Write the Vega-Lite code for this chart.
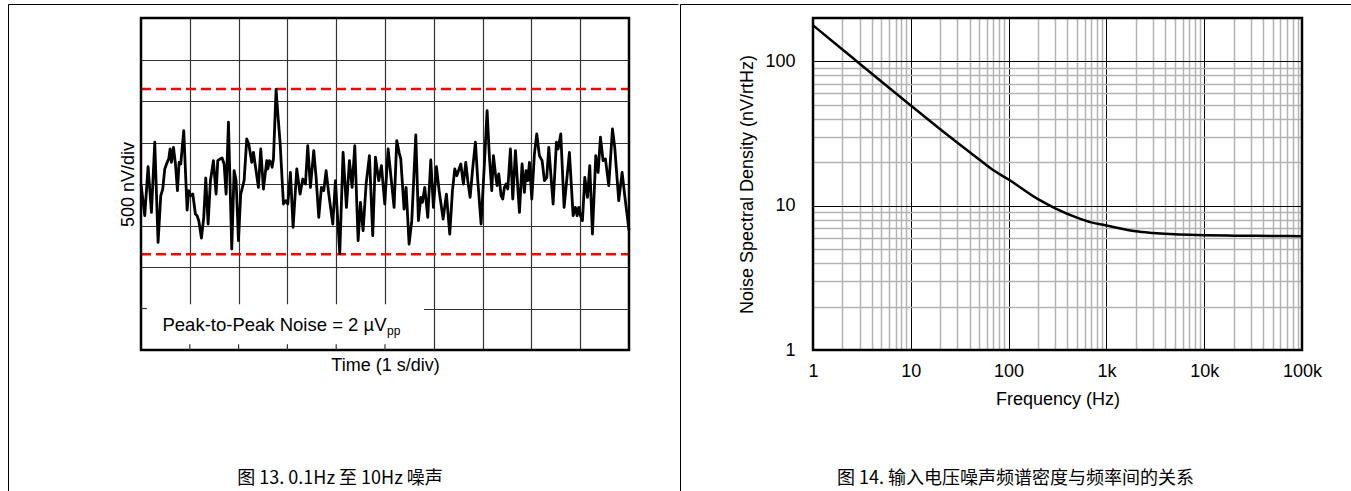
{
  "$schema": "https://vega.github.io/schema/vega-lite/v6.json",
  "background": "white",
  "padding": {"left": 7, "top": 3, "right": 0, "bottom": 0},
  "spacing": 0,
  "config": {
    "font": "Liberation Sans",
    "axis": {"labelFont": "Liberation Sans", "titleFont": "Liberation Sans", "labelColor": "black", "titleColor": "black", "titleFontWeight": "normal", "labelFontSize": 18, "titleFontSize": 18, "gridOpacity": 1}
  },
  "hconcat": [
    {
      "width": 670,
      "height": 488,
      "view": {"stroke": "black", "strokeWidth": 1, "strokeDash": [670, 1158, 488]},
      "title": {"text": "图 13. 0.1Hz 至 10Hz 噪声", "orient": "bottom", "anchor": "middle", "frame": "group", "offset": -22, "dx": -3, "font": "Noto Sans CJK SC", "fontSize": 18, "fontWeight": "normal", "color": "black"},
      "resolve": {"axis": {"x": "independent", "y": "independent"}},
      "layer": [
        {
          "data": {"values": [{}]},
          "mark": {"type": "rect", "fill": "white"},
          "encoding": {"x": {"datum": 0, "axis": null}, "x2": {"datum": 5.8}, "y": {"datum": -2000, "axis": null}, "y2": {"datum": -1450}}
        },
        {
          "data": {"values": [{"level": 1145}, {"level": -845}]},
          "mark": {"type": "rule", "color": "#ff0000", "strokeWidth": 2.5, "strokeDash": [10, 5]},
          "encoding": {"y": {"field": "level", "type": "quantitative", "axis": null}, "x": {"datum": 0, "axis": null}, "x2": {"datum": 10}}
        },
        {
          "data": {"values": [
            {"t":0.0,"v":0},{"t":0.077,"v":-382},{"t":0.145,"v":209},{"t":0.214,"v":-342},{"t":0.282,"v":503},{"t":0.35,"v":-704},{"t":0.405,"v":-141},{"t":0.446,"v":-60},{"t":0.487,"v":181},{"t":0.528,"v":249},{"t":0.569,"v":302},{"t":0.596,"v":422},{"t":0.624,"v":261},{"t":0.665,"v":442},{"t":0.706,"v":241},{"t":0.747,"v":-80},{"t":0.781,"v":261},{"t":0.815,"v":241},{"t":0.876,"v":643},{"t":0.945,"v":-314},{"t":0.979,"v":-80},{"t":1.02,"v":-141},{"t":1.061,"v":-121},{"t":1.115,"v":-362},{"t":1.15,"v":-382},{"t":1.184,"v":-442},{"t":1.238,"v":-651},{"t":1.286,"v":-402},{"t":1.327,"v":72},{"t":1.375,"v":-482},{"t":1.423,"v":40},{"t":1.484,"v":281},{"t":1.539,"v":-121},{"t":1.573,"v":281},{"t":1.621,"v":302},{"t":1.662,"v":314},
            {"t":1.703,"v":241},{"t":1.744,"v":-121},{"t":1.792,"v":744},{"t":1.86,"v":-784},{"t":1.908,"v":161},{"t":1.949,"v":40},{"t":1.997,"v":-683},{"t":2.044,"v":-121},{"t":2.113,"v":40},{"t":2.167,"v":543},{"t":2.208,"v":482},{"t":2.27,"v":261},{"t":2.304,"v":382},{"t":2.338,"v":241},{"t":2.406,"v":-40},{"t":2.454,"v":422},{"t":2.509,"v":-60},{"t":2.577,"v":281},{"t":2.598,"v":181},{"t":2.632,"v":281},{"t":2.666,"v":261},{"t":2.686,"v":201},{"t":2.714,"v":302},{"t":2.768,"v":1140},{"t":2.809,"v":804},{"t":2.85,"v":503},{"t":2.919,"v":-241},{"t":2.967,"v":-201},{"t":3.008,"v":-241},{"t":3.062,"v":141},{"t":3.117,"v":-523},{"t":3.192,"v":181},{"t":3.26,"v":-121},{"t":3.315,"v":60},
            {"t":3.37,"v":0},{"t":3.417,"v":462},{"t":3.472,"v":-40},{"t":3.54,"v":402},{"t":3.588,"v":80},{"t":3.643,"v":-402},{"t":3.697,"v":-40},{"t":3.745,"v":-80},{"t":3.793,"v":161},{"t":3.848,"v":-121},{"t":3.93,"v":-482},{"t":3.984,"v":40},{"t":4.073,"v":-840},{"t":4.141,"v":382},{"t":4.21,"v":-281},{"t":4.271,"v":281},{"t":4.326,"v":-40},{"t":4.381,"v":462},{"t":4.449,"v":-683},{"t":4.497,"v":-221},{"t":4.551,"v":-563},{"t":4.613,"v":0},{"t":4.681,"v":342},{"t":4.749,"v":-623},{"t":4.804,"v":322},{"t":4.872,"v":40},{"t":4.927,"v":221},{"t":4.995,"v":-241},
            {"t":5.064,"v":422},{"t":5.186,"v":-281},{"t":5.241,"v":523},{"t":5.289,"v":382},{"t":5.323,"v":302},{"t":5.391,"v":-302},{"t":5.432,"v":-40},{"t":5.494,"v":-724},{"t":5.549,"v":-442},{"t":5.631,"v":591},{"t":5.685,"v":-442},{"t":5.733,"v":-161},{"t":5.767,"v":-221},{"t":5.815,"v":-40},{"t":5.876,"v":-402},{"t":5.938,"v":289},{"t":5.992,"v":-281},{"t":6.054,"v":209},{"t":6.109,"v":-80},{"t":6.191,"v":-422},{"t":6.259,"v":-121},{"t":6.327,"v":-603},{"t":6.382,"v":-80},{"t":6.43,"v":181},{"t":6.471,"v":100},{"t":6.553,"v":241},{"t":6.607,"v":0},{"t":6.655,"v":261},
            {"t":6.696,"v":40},{"t":6.744,"v":-161},{"t":6.799,"v":201},{"t":6.853,"v":503},{"t":6.901,"v":40},{"t":6.969,"v":-482},{"t":7.037,"v":241},{"t":7.092,"v":884},{"t":7.14,"v":322},{"t":7.188,"v":-80},{"t":7.222,"v":342},{"t":7.263,"v":121},{"t":7.297,"v":-20},{"t":7.331,"v":121},{"t":7.379,"v":-141},{"t":7.413,"v":-181},{"t":7.447,"v":-40},{"t":7.482,"v":0},{"t":7.516,"v":-60},{"t":7.57,"v":422},{"t":7.618,"v":-181},{"t":7.673,"v":402},{"t":7.721,"v":-40},{"t":7.755,"v":-342},{"t":7.809,"v":241},{"t":7.857,"v":-100},{"t":7.891,"v":161},{"t":7.926,"v":40},{"t":7.96,"v":261},{"t":8.008,"v":-181},{"t":8.062,"v":362},{"t":8.11,"v":603},{"t":8.164,"v":342},{"t":8.219,"v":281},{"t":8.267,"v":40},{"t":8.315,"v":80},{"t":8.356,"v":442},
            {"t":8.445,"v":-241},{"t":8.513,"v":503},{"t":8.547,"v":422},{"t":8.602,"v":603},{"t":8.67,"v":-281},{"t":8.779,"v":382},{"t":8.855,"v":-382},{"t":8.902,"v":-281},{"t":8.936,"v":-382},{"t":8.971,"v":-281},{"t":9.005,"v":-382},{"t":9.046,"v":-442},{"t":9.094,"v":80},{"t":9.148,"v":-161},{"t":9.196,"v":221},{"t":9.251,"v":-603},{"t":9.319,"v":342},{"t":9.367,"v":141},{"t":9.415,"v":563},{"t":9.469,"v":281},{"t":9.517,"v":302},{"t":9.585,"v":-20},{"t":9.661,"v":663},{"t":9.708,"v":442},{"t":9.79,"v":-201},{"t":9.859,"v":141},{"t":9.913,"v":-141},{"t":10.0,"v":-560}
          ]},
          "mark": {"type": "line", "color": "black", "strokeWidth": 2.8, "strokeJoin": "round"},
          "encoding": {
            "x": {"field": "t", "type": "quantitative",
              "scale": {"domain": [0, 10], "range": [133, 621], "nice": false, "zero": false},
              "axis": {"orient": "top", "offset": -14, "title": null, "labels": false, "ticks": false, "domain": false, "grid": true, "values": [1,2,3,4,5,6,7,8,9], "gridColor": "#333333", "gridWidth": 1.2}},
            "y": {"field": "v", "type": "quantitative",
              "scale": {"domain": [-2000, 2000], "range": [346, 14], "nice": false, "zero": false},
              "axis": {"orient": "left", "offset": -133, "title": "500 nV/div", "titlePadding": 4, "labels": false, "ticks": false, "domain": false, "grid": true, "values": [-1500,-1000,-500,0,500,1000,1500], "gridColor": "#333333", "gridWidth": 1.2}}
          }
        },
        {
          "data": {"values": [{}]},
          "mark": {"type": "rect", "filled": false, "stroke": "black", "strokeWidth": 2.5},
          "encoding": {
            "x": {"datum": 0, "type": "quantitative",
              "axis": {"orient": "bottom", "offset": -142, "title": "Time (1 s/div)", "titlePadding": 6, "labels": false, "ticks": false, "domain": false, "grid": false}},
            "x2": {"datum": 10},
            "y": {"datum": -2000, "axis": null},
            "y2": {"datum": 2000}
          }
        },
        {
          "data": {"values": [{"t": 1}, {"t": 2}, {"t": 3}, {"t": 4}, {"t": 5}]},
          "mark": {"type": "rule", "color": "#333333", "strokeWidth": 1.2},
          "encoding": {"x": {"field": "t", "type": "quantitative", "axis": null}, "y": {"datum": -2000, "axis": null}, "y2": {"datum": -1930}}
        },
        {
          "data": {"values": [{"v": -1500}]},
          "mark": {"type": "rule", "color": "#333333", "strokeWidth": 1.2},
          "encoding": {"y": {"field": "v", "type": "quantitative", "axis": null}, "x": {"datum": 0, "axis": null}, "x2": {"datum": 0.12}}
        },
        {
          "data": {"values": [{"label": "Peak-to-Peak Noise = 2 µV"}]},
          "mark": {"type": "text", "align": "left", "baseline": "alphabetic", "fontSize": 18.5, "color": "black", "font": "Liberation Sans"},
          "encoding": {"text": {"field": "label"}, "x": {"datum": 0.44, "axis": null}, "y": {"datum": -1776, "axis": null}}
        },
        {
          "data": {"values": [{"label": "pp"}]},
          "mark": {"type": "text", "align": "left", "baseline": "alphabetic", "fontSize": 12, "color": "black", "font": "Liberation Sans"},
          "encoding": {"text": {"field": "label"}, "x": {"datum": 5.04, "axis": null}, "y": {"datum": -1822, "axis": null}}
        }
      ]
    },
    {
      "width": 671,
      "height": 488,
      "view": {"stroke": "black", "strokeWidth": 1, "strokeDash": [671, 1159, 488]},
      "title": {"text": "图 14. 输入电压噪声频谱密度与频率间的关系", "orient": "bottom", "anchor": "middle", "frame": "group", "offset": -22, "font": "Noto Sans CJK SC", "fontSize": 18, "fontWeight": "normal", "color": "black"},
      "resolve": {"axis": {"x": "independent", "y": "independent"}},
      "layer": [
        {
          "data": {"values": [{}]},
          "mark": {"type": "rect", "filled": false, "stroke": "black", "strokeWidth": 2.5},
          "encoding": {
            "x": {"datum": 1, "type": "quantitative",
              "scale": {"type": "log", "domain": [1, 100000], "range": [133, 622], "nice": false},
              "axis": {"orient": "bottom", "offset": -142, "title": "Frequency (Hz)", "titlePadding": 10, "values": [1,10,100,1000,10000,100000], "labelExpr": "datum.value >= 1000 ? (datum.value / 1000) + 'k' : datum.value", "labelFlush": false, "labelOverlap": false, "labelBound": false, "labelPadding": 12, "ticks": false, "domain": false, "grid": false}},
            "x2": {"datum": 100000},
            "y": {"datum": 1, "type": "quantitative", "axis": null,
              "scale": {"type": "log", "domain": [1, 200], "range": [346, 14], "nice": false}},
            "y2": {"datum": 200}
          }
        },
        {
          "data": {"values": [
            {"f":1,"e":178},{"f":2,"e":121},{"f":3,"e":96.5},{"f":5,"e":72.6},{"f":7,"e":60.3},{"f":10,"e":49.5},{"f":20,"e":33.9},{"f":30,"e":27.3},{"f":50,"e":20.9},{"f":70,"e":17.6},{"f":100,"e":15.2},{"f":200,"e":11.1},{"f":300,"e":9.6},{"f":500,"e":8.27},{"f":700,"e":7.67},{"f":1000,"e":7.3},{"f":2000,"e":6.65},{"f":3000,"e":6.48},{"f":5000,"e":6.33},{"f":10000,"e":6.25},{"f":20000,"e":6.2},{"f":50000,"e":6.17},{"f":100000,"e":6.15}
          ]},
          "mark": {"type": "line", "interpolate": "monotone", "color": "black", "strokeWidth": 2.5},
          "encoding": {
            "x": {"field": "f", "type": "quantitative",
              "scale": {"type": "log", "domain": [1, 100000], "range": [133, 622], "nice": false},
              "axis": {"orient": "top", "offset": -14, "title": null, "labels": false, "ticks": false, "domain": false, "grid": true,
                "values": [2,3,4,5,6,7,8,9,10,20,30,40,50,60,70,80,90,100,200,300,400,500,600,700,800,900,1000,2000,3000,4000,5000,6000,7000,8000,9000,10000,20000,30000,40000,50000,60000,70000,80000,90000],
                "gridColor": {"condition": {"test": "indexof([1,10,100,1000,10000,100000], datum.value) >= 0", "value": "black"}, "value": "#b3b3b3"},
                "gridWidth": {"condition": {"test": "indexof([1,10,100,1000,10000,100000], datum.value) >= 0", "value": 1}, "value": 1.5}}},
            "y": {"field": "e", "type": "quantitative",
              "scale": {"type": "log", "domain": [1, 200], "range": [346, 14], "nice": false},
              "axis": {"orient": "left", "offset": -133, "title": "Noise Spectral Density (nV/rtHz)", "titlePadding": 8,
                "values": [1,2,3,4,5,6,7,8,9,10,20,30,40,50,60,70,80,90,100],
                "labelExpr": "indexof([1,10,100], datum.value) >= 0 ? datum.value : ''",
                "labelOverlap": false, "labelBound": false, "labelPadding": 18, "ticks": false, "domain": false, "grid": true,
                "gridColor": {"condition": {"test": "indexof([1,10,100], datum.value) >= 0", "value": "black"}, "value": "#b3b3b3"},
                "gridWidth": {"condition": {"test": "indexof([1,10,100], datum.value) >= 0", "value": 1}, "value": 1.5}}}
          }
        }
      ]
    }
  ]
}
